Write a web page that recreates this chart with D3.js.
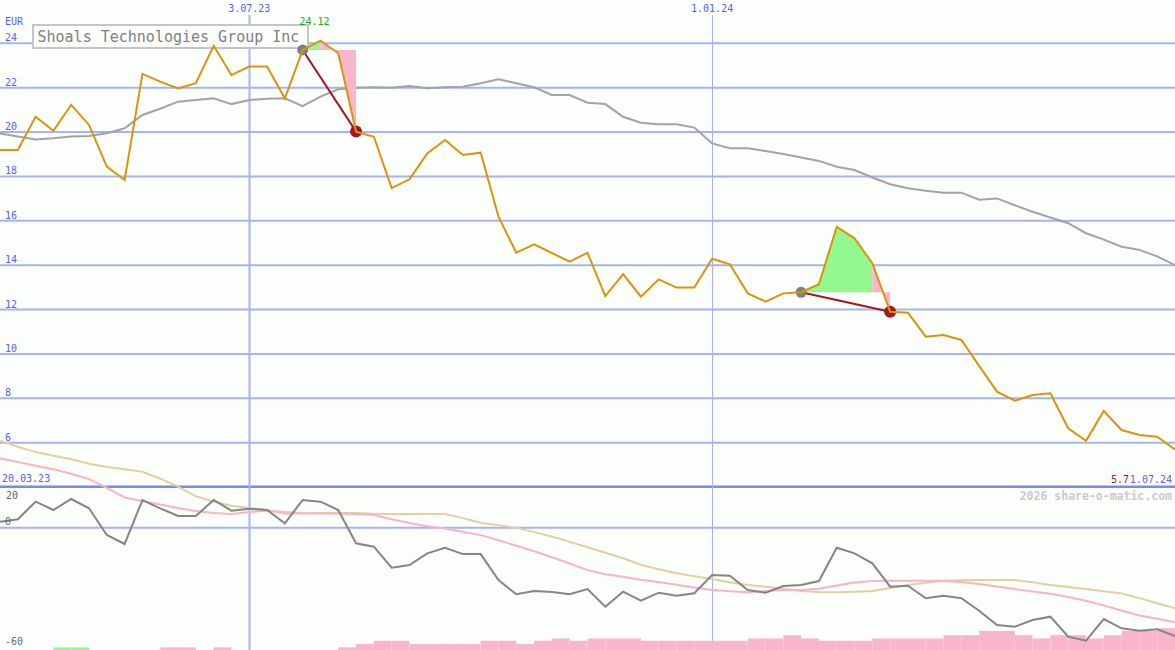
<!DOCTYPE html>
<html>
<head>
<meta charset="utf-8">
<script src="https://cdn.jsdelivr.net/npm/d3@7"></script>
<style>
html,body{margin:0;padding:0;background:#fcfefb;}
svg{display:block;}
text{font-family:"DejaVu Sans Mono",monospace;}
</style>
</head>
<body>
<svg id="chart" width="1175" height="650"></svg>
<script>
// ---------------- DATA ----------------
const startDate = new Date(2023, 2, 27);   // first weekly point
const dates = d3.range(67).map(i => new Date(2023, 2, 27 + 7 * i));

const price = [19.19,19.19,20.69,20.06,21.23,20.32,18.44,17.84,22.62,22.27,21.97,22.2,23.89,22.57,22.95,22.95,21.52,23.7,24.12,23.55,
  20.02,19.79,17.47,17.87,19.04,19.64,18.97,19.07,16.19,14.56,14.94,14.55,14.16,14.56,12.61,13.6,12.58,13.36,12.99,12.99,
  14.29,14.04,12.73,12.36,12.73,12.78,13.14,15.73,15.21,14.09,11.9,11.86,10.78,10.85,10.63,9.46,8.3,7.89,8.15,8.23,
  6.65,6.09,7.43,6.57,6.35,6.27,5.7];

const priceAvg = [19.94,19.8,19.67,19.72,19.8,19.82,19.95,20.17,20.77,21.05,21.37,21.45,21.52,21.26,21.44,21.5,21.52,21.17,21.6,21.93,
  22.0,22.02,22.0,22.08,21.97,22.02,22.04,22.2,22.38,22.2,22.02,21.67,21.67,21.32,21.26,20.69,20.42,20.35,20.35,20.2,
  19.49,19.27,19.27,19.15,19.01,18.85,18.7,18.44,18.29,17.95,17.65,17.47,17.35,17.27,17.27,16.95,17.01,16.7,16.41,16.15,
  15.89,15.44,15.15,14.83,14.69,14.4,14.0];

const oscillator = [3.0,4.2,13.0,8.85,14.35,9.7,-3.65,-8.15,13.85,9.7,5.85,5.85,13.85,8.5,9.5,8.85,2.2,13.85,13.0,8.85,
  -7.8,-9.5,-20,-18.65,-12.8,-10,-13.2,-13.2,-26.2,-33.3,-31.7,-32.2,-33.3,-30.7,-39.5,-32,-36.5,-32.5,-34,-32.8,
  -23.65,-24,-31.15,-32.5,-29.2,-28.65,-26.65,-10,-12.8,-17.8,-29.5,-29,-35.3,-34,-35.3,-41.5,-48.65,-49.5,-46.15,-44.5,
  -54.5,-56.5,-45.65,-50.3,-51.5,-50.8,-54.15];

const oscSlow = [43.5,40.5,37.8,36.0,34.2,32.0,30.3,29.2,28.0,24.5,20.5,15.7,13.0,11.0,9.9,8.8,7.0,7.1,7.4,7.4,
  7.3,7.0,6.9,6.85,6.85,6.85,4.8,2.5,1.2,-0.1,-2.2,-4.4,-7.1,-9.8,-12.5,-15.3,-18.5,-20.8,-22.8,-24.3,
  -25.7,-27.3,-28.7,-29.5,-30.5,-31.6,-32.1,-32.3,-32.0,-31.6,-30.2,-28.7,-27.5,-26.5,-26.3,-26.15,-26.15,-26.15,-27.3,-28.6,
  -29.7,-30.7,-31.8,-32.9,-35.2,-37.8,-40.3];

const oscFast = [34.7,32.9,31.0,29.2,27.0,24.3,19.9,15.1,13.4,11.6,9.8,8.3,7.3,6.9,7.9,8.5,7.9,7.2,7.1,7.0,
  6.9,6.3,4.2,2.4,0.7,-0.4,-2.0,-3.7,-6.3,-9.0,-11.8,-14.8,-17.9,-21.2,-23.3,-24.5,-26.0,-27.2,-28.5,-29.9,
  -31.1,-31.8,-32.3,-31.6,-31.15,-31.15,-30.5,-28.9,-27.4,-26.6,-26.5,-26.5,-26.5,-26.5,-27.3,-28.2,-29.4,-30.7,-31.9,-33.0,
  -34.6,-36.5,-38.9,-41.4,-43.9,-45.5,-47.3];

// histogram per weekly interval (positive = green, negative = pink)
const histogram = [0,0,0,0.8,0.8,0,0,0,0,-0.8,-0.8,0,-0.8,0,0,0,0,0,0,-0.8,
  -1.8,-2.8,-2.8,-1.8,-1.8,-1.8,-1.8,-2.8,-2.8,-1.8,-2.8,-3.5,-2.8,-3.5,-3.5,-3.5,-2.8,-2.8,-2.8,-2.8,
  -2.8,-2.8,-3.5,-3.5,-4.5,-3.5,-2.8,-2.8,-2.8,-3.5,-3.5,-3.5,-3.5,-4.5,-4.5,-5.8,-5.8,-4.5,-3.5,-4.5,
  -4.5,-3.5,-4.5,-5.8,-5.8,-6.6];

const tradeEntries = [17, 45];
const tradeExits = [20, 50];

const priceTicks = [6, 8, 10, 12, 14, 16, 18, 20, 22, 24];
const oscTicks = [20, 0, -60];
const oscGrid = [0];
const dateTicks = [new Date(2023, 6, 3), new Date(2024, 0, 1)];
const dateTickLabels = ["3.07.23", "1.01.24"];
const dateTickWidths = [2, 1];
const title = "Shoals Technologies Group Inc";
const currency = "EUR";
const firstDateLabel = "20.03.23";
const lastDateLabel = "1.07.24";
const lastPriceLabel = "5.7";
const maxPriceLabel = "24.12";
const credit = "2026 share-o-matic.com";

// ---------------- CHART ----------------
const W = 1175, H = 650;
const svg = d3.select("#chart");
const blue = "#5363f2", grid = "#a5b3f3";

const x = d3.scaleTime().domain([startDate, new Date(2024, 6, 1)]).range([0, W]);
const yP = d3.scaleLinear().domain([6, 24]).range([442.7, 43.3]);
const yB = d3.scaleLinear().domain([-60, 20]).range([647.7, 487.7]);
const hB = d3.scaleLinear().domain([0, 1]).range([0, 3.3]);

svg.append("rect").attr("width", W).attr("height", H).attr("fill", "#fcfefb");

// price grid
svg.append("g").selectAll("line").data(priceTicks).join("line")
  .attr("x1", 0).attr("x2", W)
  .attr("y1", d => yP(d)).attr("y2", d => yP(d))
  .attr("stroke", grid).attr("stroke-width", 2);

// oscillator grid
svg.append("g").selectAll("line").data(oscGrid).join("line")
  .attr("x1", 0).attr("x2", W)
  .attr("y1", d => yB(d)).attr("y2", d => yB(d))
  .attr("stroke", grid).attr("stroke-width", 2);

// separator
svg.append("line").attr("x1", 0).attr("x2", W)
  .attr("y1", yB(20) - 1).attr("y2", yB(20) - 1)
  .attr("stroke", "#7a89ee").attr("stroke-width", 2.5);

// vertical date lines
svg.append("g").selectAll("line").data(dateTicks).join("line")
  .attr("x1", d => Math.round(x(d)) + 0.5).attr("x2", d => Math.round(x(d)) + 0.5)
  .attr("y1", 15).attr("y2", H)
  .attr("stroke", grid).attr("stroke-width", (d, i) => dateTickWidths[i]);

// histogram bars
const bars = histogram.map((v, i) => ({v, x0: dates[i], x1: dates[i + 1]})).filter(d => d.v !== 0);
svg.append("g").selectAll("rect").data(bars).join("rect")
  .attr("x", d => x(d.x0)).attr("width", d => x(d.x1) - x(d.x0))
  .attr("y", d => H - hB(Math.abs(d.v))).attr("height", d => hB(Math.abs(d.v)))
  .attr("fill", d => d.v > 0 ? "#92f88f" : "#f9b5c9");

// oscillator lines
const lineB = arr => d3.line().x((d, i) => x(dates[i])).y(d => yB(d))(arr);
svg.append("path").attr("d", lineB(oscSlow)).attr("fill", "none").attr("stroke", "#e4cfa0").attr("stroke-width", 2);
svg.append("path").attr("d", lineB(oscFast)).attr("fill", "none").attr("stroke", "#f8b3c8").attr("stroke-width", 2);
svg.append("path").attr("d", lineB(oscillator)).attr("fill", "none").attr("stroke", "#858585").attr("stroke-width", 2);

// title box
svg.append("rect").attr("x", 33).attr("y", 25).attr("width", 275).attr("height", 23)
  .attr("fill", "#fcfefb").attr("stroke", "#c4c4c4").attr("stroke-width", 2);
svg.append("text").attr("x", 37.5).attr("y", 41.5).attr("font-size", 15).attr("fill", "#808080").text(title);

// price average
const lineP = arr => d3.line().x((d, i) => x(dates[i])).y(d => yP(d))(arr);
svg.append("path").attr("d", lineP(priceAvg)).attr("fill", "none").attr("stroke", "#a3a3a3").attr("stroke-width", 2);

// trades
tradeEntries.forEach((e, t) => {
  const ex = tradeExits[t];
  const E = price[e];
  let k = e;
  while (k + 1 < ex && price[k + 1] > E) k++;
  const gPts = [[x(dates[e]), yP(E)]];
  for (let i = e; i <= k; i++) gPts.push([x(dates[i]), yP(price[i])]);
  gPts.push([x(dates[k]), yP(E)]);
  svg.append("path").attr("d", "M" + gPts.join("L") + "Z").attr("fill", "#93f88f");
  const pPts = [[x(dates[k]), yP(price[k])], [x(dates[k]), yP(E)], [x(dates[ex]), yP(E)]];
  for (let i = ex; i >= k; i--) pPts.push([x(dates[i]), yP(price[i])]);
  svg.append("path").attr("d", "M" + pPts.join("L") + "Z").attr("fill", "#f9b5c9").attr("fill-rule", "evenodd");
  svg.append("line").attr("x1", x(dates[e])).attr("y1", yP(E))
    .attr("x2", x(dates[ex])).attr("y2", yP(price[ex]))
    .attr("stroke", "#a3171f").attr("stroke-width", 2);
  svg.append("circle").attr("cx", x(dates[e])).attr("cy", yP(E)).attr("r", 5.5).attr("fill", "#7f7f7f");
  svg.append("circle").attr("cx", x(dates[ex])).attr("cy", yP(price[ex])).attr("r", 6).attr("fill", "#a3171f");
});

// price line
svg.append("path").attr("d", lineP(price)).attr("fill", "none").attr("stroke", "#d9950a").attr("stroke-width", 2)
  .attr("stroke-linejoin", "miter");

// price tick labels
svg.append("g").selectAll("text").data(priceTicks).join("text")
  .attr("x", 5).attr("y", d => yP(d) - 2).attr("font-size", 10).attr("fill", blue).text(d => d);
svg.append("text").attr("x", 5).attr("y", 25).attr("font-size", 10).attr("fill", blue).text(currency);

// oscillator tick labels
svg.append("g").selectAll("text").data(oscTicks).join("text")
  .attr("x", d => d < 0 ? 5 : (d >= 10 ? 6 : 5)).attr("y", d => Math.max(yB(d) - 3, 499))
  .attr("font-size", 10).attr("fill", "#666").text(d => d);

// date labels
svg.append("g").selectAll("text").data(dateTicks).join("text")
  .attr("x", d => x(d)).attr("y", 12).attr("text-anchor", "middle")
  .attr("font-size", 10).attr("fill", blue).text((d, i) => dateTickLabels[i]);
svg.append("text").attr("x", 2).attr("y", 482).attr("font-size", 10).attr("fill", blue).text(firstDateLabel);
svg.append("text").attr("x", 1172).attr("y", 483).attr("text-anchor", "end").attr("font-size", 10).attr("fill", blue).text(lastDateLabel);
svg.append("text").attr("x", 1129).attr("y", 483).attr("text-anchor", "end").attr("font-size", 10).attr("fill", "#a01818").text(lastPriceLabel);

// max label
const iMax = d3.maxIndex(price);
svg.append("text").attr("x", x(dates[iMax]) - 6).attr("y", 24.5).attr("text-anchor", "middle")
  .attr("font-size", 10).attr("fill", "#1fa21f").text(maxPriceLabel);

// credit
svg.append("text").attr("x", 1172).attr("y", 500).attr("text-anchor", "end")
  .attr("font-size", 11.5).attr("font-weight", "bold").attr("fill", "#cacaca").text(credit);
</script>
</body>
</html>
